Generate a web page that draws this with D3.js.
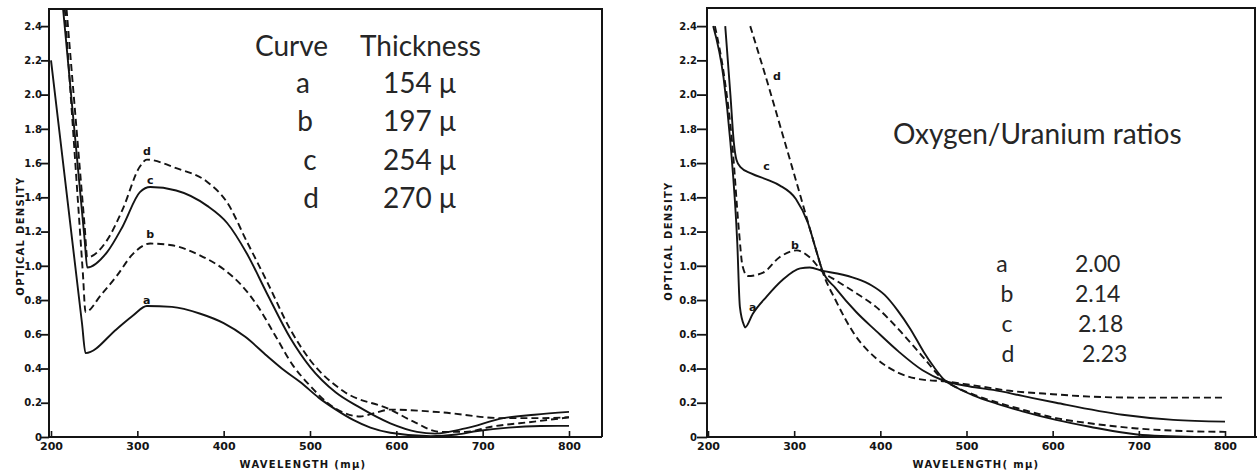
<!DOCTYPE html>
<html>
<head>
<meta charset="utf-8">
<script src="https://cdn.jsdelivr.net/npm/d3@7"></script>
<style>
  body { margin: 0; background: #fff; }
  svg { display: block; }
</style>
</head>
<body>
<svg id="fig" width="1257" height="474"></svg>
<script>
// ---- data -------------------------------------------------------------
const waveTicks = [200, 300, 400, 500, 600, 700, 800];
const densityTicks = [0, 0.2, 0.4, 0.6, 0.8, 1.0, 1.2, 1.4, 1.6, 1.8, 2.0, 2.2, 2.4];
const curveNames = ["a", "b", "c", "d"];

// Film thickness series: [wavelength (mμ), optical density]
const thickA = [[200,2.2],[236,0.66],[240,0.49],[276,0.63],[295,0.71],[311,0.765],[340,0.76],[373,0.72],[400,0.665],[425,0.585],[450,0.475],[470,0.39],[489,0.32],[510,0.23],[530,0.16],[550,0.10],[570,0.055],[593,0.025],[640,0.005],[670,0.015],[694,0.035],[730,0.055],[767,0.064],[800,0.065]];
const thickB = [[216,2.5],[237,0.95],[240,0.73],[258,0.83],[276,0.94],[295,1.07],[315,1.13],[340,1.12],[373,1.06],[400,0.98],[420,0.89],[440,0.76],[460,0.59],[480,0.42],[500,0.30],[520,0.20],[540,0.14],[558,0.12],[575,0.14],[593,0.16],[650,0.145],[724,0.11],[760,0.11],[800,0.115]];
const thickC = [[214,2.5],[239,1.15],[242,0.99],[265,1.08],[283,1.23],[303,1.43],[315,1.46],[345,1.44],[381,1.35],[404,1.25],[427,1.07],[450,0.84],[477,0.58],[500,0.41],[530,0.26],[555,0.18],[593,0.08],[624,0.03],[645,0.02],[680,0.05],[724,0.11],[760,0.13],[800,0.147]];
const thickD = [[218,2.5],[239,1.23],[242,1.05],[265,1.15],[283,1.33],[303,1.58],[311,1.62],[345,1.57],[381,1.49],[404,1.37],[427,1.14],[450,0.91],[477,0.63],[500,0.45],[538,0.27],[593,0.16],[620,0.09],[650,0.03],[680,0.03],[710,0.06],[760,0.09],[800,0.115]];
const thicknessValues = ["154 μ", "197 μ", "254 μ", "270 μ"];

// Oxygen/uranium ratio series
const ratioA = [[206,2.4],[218,2.1],[226,1.72],[234,1.13],[237,0.76],[242,0.65],[243,0.64],[252,0.72],[268,0.82],[287,0.92],[307,0.985],[318,0.99],[333,0.97],[350,0.955],[372,0.925],[390,0.885],[405,0.83],[420,0.74],[435,0.63],[450,0.50],[462,0.41],[473,0.34],[490,0.285],[507,0.245],[535,0.195],[565,0.15],[604,0.10],[643,0.06],[698,0.015],[765,0.0]];
const ratioB = [[208,2.4],[219,2.1],[228,1.72],[236,1.2],[240,1.0],[246,0.94],[264,0.96],[283,1.05],[303,1.09],[318,1.05],[333,0.965],[350,0.91],[372,0.84],[395,0.76],[421,0.63],[449,0.47],[473,0.335],[490,0.285],[507,0.25],[565,0.16],[604,0.11],[643,0.08],[698,0.05],[750,0.035],[800,0.03]];
const ratioC = [[220,2.4],[226,2.0],[230,1.72],[233,1.62],[238,1.575],[250,1.54],[270,1.50],[283,1.47],[302,1.39],[316,1.25],[325,1.10],[333,0.97],[348,0.87],[372,0.73],[395,0.62],[421,0.50],[449,0.39],[473,0.33],[504,0.295],[531,0.275],[565,0.24],[604,0.20],[681,0.13],[740,0.10],[800,0.09]];
const ratioD = [[249,2.4],[272,2.02],[287,1.76],[302,1.50],[314,1.29],[325,1.10],[333,0.965],[348,0.80],[370,0.60],[395,0.46],[421,0.375],[449,0.335],[475,0.325],[504,0.305],[550,0.27],[600,0.25],[647,0.235],[700,0.23],[800,0.23]];
const ratioValues = ["2.00", "2.14", "2.18", "2.23"];

// ---- drawing ----------------------------------------------------------
const svg = d3.select("#fig");
svg.append("rect").attr("width", 1257).attr("height", 474).attr("fill", "#fff");

const ink = "#141414";
const dashPattern = "7,4";
const lineStyles = ["solid", "dashed", "solid", "dashed"];

const panels = [
  {
    series: [thickA, thickB, thickC, thickD],
    xRange: [51, 569], yRange: [437, 9],
    frame: { left: 49, right: 602, top: 9, bottom: 437, axisEnd: 602 },
    tickLen: 8, tickLabelX: 42,
    labelAt: [[311, 0.80], [315, 1.18], [315, 1.50], [311, 1.67]],
    yTitle: { x: 20, y: 236 },
    xTitle: { x: 303, y: 464, text: "WAVELENGTH (mμ)" }
  },
  {
    series: [ratioA, ratioB, ratioC, ratioD],
    xRange: [708, 1225], yRange: [437, 9],
    frame: { left: 707, right: 1255, top: 8, bottom: 437, axisEnd: 1257 },
    tickLen: 10, tickLabelX: 697,
    labelAt: [[252, 0.755], [301, 1.12], [268, 1.58], [280, 2.105]],
    yTitle: { x: 668, y: 241 },
    xTitle: { x: 976, y: 464, text: "WAVELENGTH( mμ)" }
  }
];

const tickFont = "'DejaVu Sans', 'Liberation Sans', sans-serif";

panels.forEach(p => {
  const x = d3.scaleLinear().domain([200, 800]).range(p.xRange);
  const y = d3.scaleLinear().domain([0, 2.5]).range(p.yRange);
  const g = svg.append("g");

  // frame: top and right border, left and bottom axis lines
  g.append("path")
    .attr("d", `M${p.frame.left},${p.frame.bottom} V${p.frame.top} H${p.frame.right} V${p.frame.bottom}`)
    .attr("fill", "none").attr("stroke", ink).attr("stroke-width", 2);
  g.append("line")
    .attr("x1", p.frame.left).attr("x2", p.frame.axisEnd)
    .attr("y1", p.frame.bottom).attr("y2", p.frame.bottom)
    .attr("stroke", ink).attr("stroke-width", 2);

  // y axis ticks (outward) and labels
  const yAxis = d3.axisLeft(y).tickValues(densityTicks).tickSize(p.tickLen).tickSizeOuter(0)
    .tickFormat(d => d === 0 ? "0" : d3.format(".1f")(d));
  const ya = g.append("g").attr("transform", `translate(${p.frame.left},0)`).call(yAxis);
  ya.select(".domain").remove();
  ya.selectAll(".tick line").attr("stroke", ink).attr("stroke-width", 1.8);
  ya.selectAll(".tick text")
    .attr("x", p.tickLabelX - p.frame.left)
    .attr("fill", ink)
    .style("font-family", tickFont).style("font-weight", "bold")
    .style("font-size", "10px");

  // x axis ticks (inward) and labels
  const xAxis = d3.axisBottom(x).tickValues(waveTicks).tickSize(-6).tickSizeOuter(0);
  const xa = g.append("g").attr("transform", `translate(0,${p.frame.bottom})`).call(xAxis);
  xa.select(".domain").remove();
  xa.selectAll(".tick line").attr("stroke", ink).attr("stroke-width", 1.6);
  xa.selectAll(".tick text")
    .attr("y", 5)
    .attr("fill", ink)
    .style("font-family", tickFont).style("font-weight", "bold")
    .style("font-size", "11px");

  // curves
  const line = d3.line().x(d => x(d[0])).y(d => y(d[1])).curve(d3.curveMonotoneX);
  p.series.forEach((s, i) => {
    g.append("path")
      .datum(s)
      .attr("d", line)
      .attr("fill", "none")
      .attr("stroke", ink)
      .attr("stroke-width", 1.9)
      .attr("stroke-linejoin", "round")
      .attr("stroke-dasharray", lineStyles[i] === "dashed" ? dashPattern : null);
  });

  // curve letters
  curveNames.forEach((name, i) => {
    g.append("text")
      .attr("x", x(p.labelAt[i][0])).attr("y", y(p.labelAt[i][1]))
      .attr("text-anchor", "middle").attr("dominant-baseline", "central")
      .attr("fill", ink)
      .style("font-family", tickFont).style("font-weight", "bold").style("font-size", "11px")
      .text(name);
  });

  // axis titles
  g.append("text")
    .attr("transform", `translate(${p.yTitle.x},${p.yTitle.y}) rotate(-90)`)
    .attr("text-anchor", "middle").attr("dominant-baseline", "central")
    .attr("fill", ink)
    .style("font-family", tickFont).style("font-weight", "bold")
    .style("font-size", "10px").style("letter-spacing", "1.3px")
    .text("OPTICAL DENSITY");
  g.append("text")
    .attr("x", p.xTitle.x).attr("y", p.xTitle.y)
    .attr("text-anchor", "middle").attr("dominant-baseline", "central")
    .attr("fill", ink)
    .style("font-family", tickFont).style("font-weight", "bold")
    .style("font-size", "10px").style("letter-spacing", "1.3px")
    .text(p.xTitle.text);
});

// ---- legends ----------------------------------------------------------
const legendFont = "Lato, 'Open Sans', sans-serif";
const legendInk = "#262626";

const leftLegend = svg.append("g")
  .style("font-family", legendFont).attr("fill", legendInk);
leftLegend.append("text").attr("x", 255).attr("y", 56).style("font-size", "28px").text("Curve");
leftLegend.append("text").attr("x", 360).attr("y", 56).style("font-size", "28px").text("Thickness");
const letterX = [303, 305, 310, 311];
curveNames.forEach((name, i) => {
  const base = 93 + i * 38.3;
  leftLegend.append("text").attr("x", letterX[i]).attr("y", base)
    .attr("text-anchor", "middle").style("font-size", "28px").text(name);
  leftLegend.append("text").attr("x", 383).attr("y", base)
    .style("font-size", "28px").text(thicknessValues[i]);
});

const rightLegend = svg.append("g")
  .style("font-family", legendFont).attr("fill", legendInk);
rightLegend.append("text").attr("x", 893).attr("y", 144)
  .style("font-size", "28px").text("Oxygen/Uranium ratios");
const ratioLetterX = [1002, 1007, 1007, 1008];
const ratioValueX = [1075, 1075, 1078, 1082];
curveNames.forEach((name, i) => {
  const base = 272 + i * 30;
  rightLegend.append("text").attr("x", ratioLetterX[i]).attr("y", base)
    .attr("text-anchor", "middle").style("font-size", "23px").text(name);
  rightLegend.append("text").attr("x", ratioValueX[i]).attr("y", base)
    .style("font-size", "23px").text(ratioValues[i]);
});
</script>
</body>
</html>
